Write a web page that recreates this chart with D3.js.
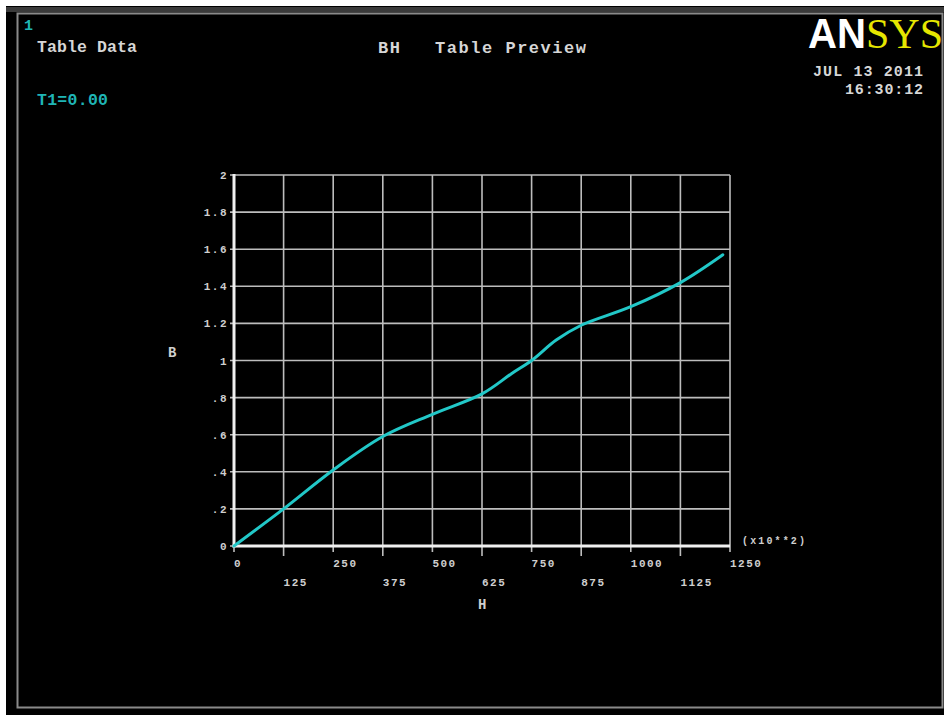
<!DOCTYPE html>
<html>
<head>
<meta charset="utf-8">
<script src="https://cdn.jsdelivr.net/npm/d3@7"></script>
<style>
  html, body { margin: 0; padding: 0; background: #ffffff; }
  svg { display: block; }
  text { font-family: "Liberation Mono", "DejaVu Sans Mono", monospace; font-weight: bold; }
</style>
</head>
<body>
<svg id="chart" width="944" height="715"></svg>
<script>
// BH table: magnetic field H (x10**2) against flux density B
const hValues = [0, 125, 250, 375, 500, 625, 700, 750, 812, 875, 1000, 1125, 1232];
const bValues = [0, 0.20, 0.41, 0.59, 0.71, 0.82, 0.93, 1.00, 1.11, 1.19, 1.29, 1.42, 1.57];

const xTicks = [0, 125, 250, 375, 500, 625, 750, 875, 1000, 1125, 1250];
const xTickLabels = ["0", "125", "250", "375", "500", "625", "750", "875", "1000", "1125", "1250"];
const yTicks = [0, 0.2, 0.4, 0.6, 0.8, 1, 1.2, 1.4, 1.6, 1.8, 2];
const yTickLabels = ["0", ".2", ".4", ".6", ".8", "1", "1.2", "1.4", "1.6", "1.8", "2"];

const svg = d3.select("#chart");

// window background and frame
svg.append("rect").attr("x", 0).attr("y", 0).attr("width", 944).attr("height", 715).attr("fill", "#ffffff");
svg.append("rect").attr("x", 6).attr("y", 6).attr("width", 938).attr("height", 709).attr("fill", "#000000");
svg.append("rect").attr("x", 6).attr("y", 7).attr("width", 938).attr("height", 5).attr("fill", "#3a3a3a");
svg.append("rect").attr("x", 17.5).attr("y", 13.5).attr("width", 925).attr("height", 694)
  .attr("fill", "none").attr("stroke", "#8a8a8a").attr("stroke-width", 2);

// header texts
const txt = (xp, yp, s, size, len, col) => svg.append("text")
  .attr("x", xp).attr("y", yp).attr("fill", col).attr("font-size", size)
  .attr("textLength", len).attr("lengthAdjust", "spacing").text(s);
svg.append("text").attr("x", 24).attr("y", 30).attr("fill", "#1fb5b5").attr("font-size", 15).text("1");
txt(37, 52, "Table Data", 16.5, 100, "#d6d6d6");
txt(37, 105, "T1=0.00", 16.5, 71, "#1fb5b5");
txt(378, 53, "BH", 17, 22, "#d6d6d6");
txt(435, 53, "Table Preview", 17, 151, "#d6d6d6");
txt(813, 76, "JUL 13 2011", 15, 110, "#d6d6d6");
txt(845, 94, "16:30:12", 15, 78, "#d6d6d6");

// logo
const logo = svg.append("text").attr("x", 808).attr("y", 48).attr("font-size", 42);
logo.append("tspan").attr("fill", "#ffffff")
  .style("font-family", "'Liberation Sans', Arial, sans-serif").style("font-weight", "bold")
  .attr("textLength", 58).attr("lengthAdjust", "spacingAndGlyphs").text("AN");
logo.append("tspan").attr("fill", "#e6e600")
  .style("font-family", "'Liberation Serif', 'Times New Roman', serif").style("font-weight", "normal")
  .text("SYS");

// plot scales
const x = d3.scaleLinear().domain([0, 1250]).range([234, 730]);
const y = d3.scaleLinear().domain([0, 2]).range([546, 175]);

// grid
const grid = svg.append("g").attr("stroke", "#bdbdbd").attr("stroke-width", 1.6);
grid.selectAll("line.v").data(xTicks).join("line")
  .attr("x1", d => x(d)).attr("x2", d => x(d))
  .attr("y1", y(2)).attr("y2", (d, i) => y(0) + (i % 2 ? 10 : 6));
grid.selectAll("line.h").data(yTicks).join("line")
  .attr("x1", x(0) - 4).attr("x2", x(1250))
  .attr("y1", d => y(d)).attr("y2", d => y(d));

// axes
svg.append("line").attr("x1", x(0)).attr("x2", x(0)).attr("y1", y(2) - 1).attr("y2", y(0) + 1.5)
  .attr("stroke", "#f0f0f0").attr("stroke-width", 3);
svg.append("line").attr("x1", x(0) - 1.5).attr("x2", x(1250)).attr("y1", y(0)).attr("y2", y(0))
  .attr("stroke", "#f0f0f0").attr("stroke-width", 3);

// tick labels
const tickFont = 11;
svg.append("g").selectAll("text").data(yTicks).join("text")
  .attr("x", 228).attr("y", d => y(d) + 4)
  .attr("text-anchor", "end").attr("fill", "#cfcfcf").attr("font-size", tickFont)
  .attr("letter-spacing", 1.5)
  .text((d, i) => yTickLabels[i]);
svg.append("g").selectAll("text").data(xTicks).join("text")
  .attr("x", d => x(d)).attr("y", (d, i) => i % 2 ? 586 : 567)
  .attr("fill", "#cfcfcf").attr("font-size", tickFont).attr("letter-spacing", 1.5)
  .text((d, i) => xTickLabels[i]);

svg.append("text").attr("x", 742).attr("y", 544).attr("fill", "#cfcfcf").attr("font-size", 10)
  .attr("textLength", 63).attr("lengthAdjust", "spacing").text("(x10**2)");
svg.append("text").attr("x", 168).attr("y", 357).attr("fill", "#cfcfcf").attr("font-size", 14).text("B");
svg.append("text").attr("x", 478).attr("y", 609).attr("fill", "#cfcfcf").attr("font-size", 14).text("H");

// BH curve
const pts = hValues.map((h, i) => [h, bValues[i]]);
const line = d3.line().x(d => x(d[0])).y(d => y(d[1])).curve(d3.curveCatmullRom.alpha(0.5));
svg.append("path").datum(pts).attr("d", line)
  .attr("fill", "none").attr("stroke", "#22c8c8").attr("stroke-width", 3)
  .attr("stroke-linecap", "round").attr("stroke-linejoin", "round");
</script>
</body>
</html>
